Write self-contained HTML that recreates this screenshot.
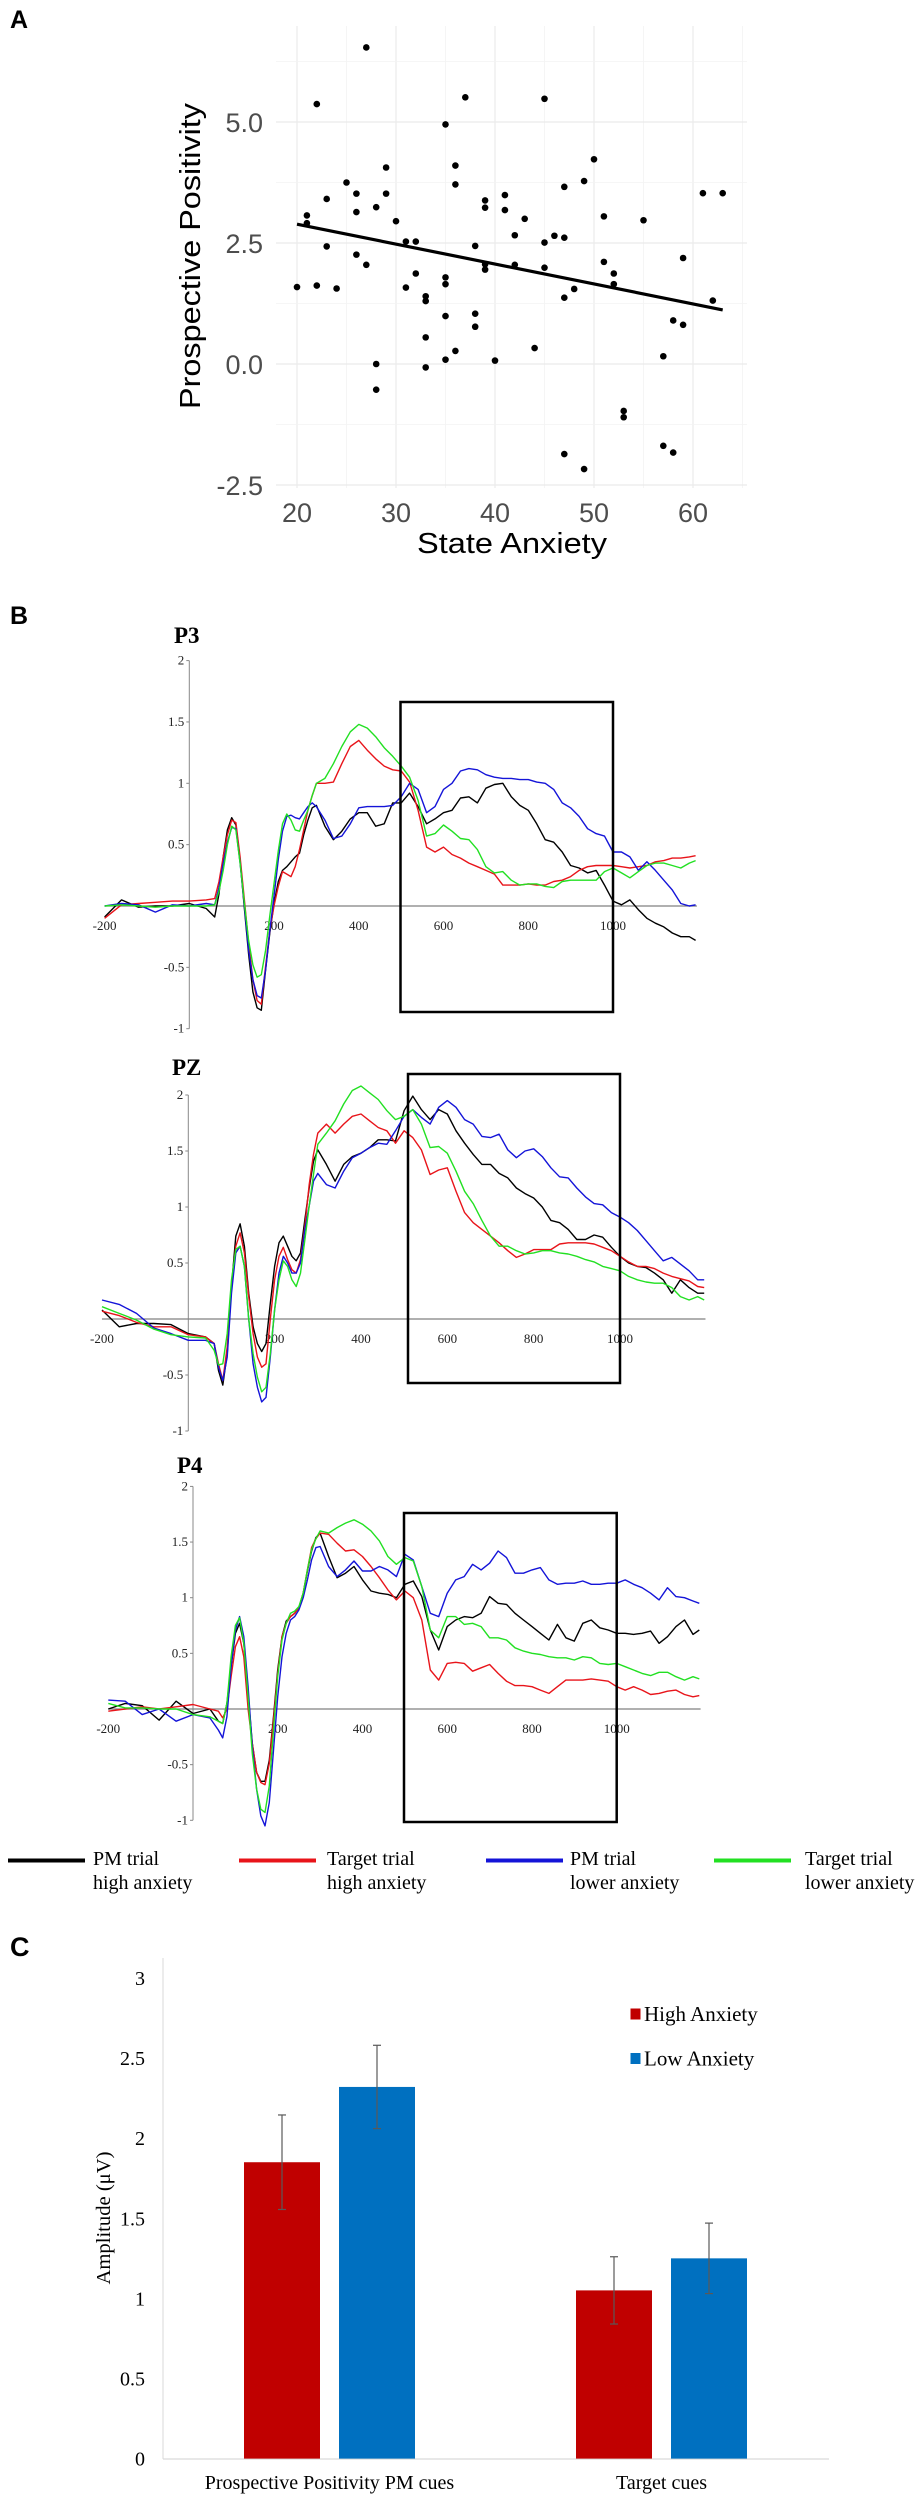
<!DOCTYPE html>
<html><head><meta charset="utf-8"><title>Figure</title>
<style>
html,body{margin:0;padding:0;background:#fff;}
svg{display:block;}
.sans{font-family:"Liberation Sans",sans-serif;}
.serif{font-family:"Liberation Serif",serif;}
</style></head>
<body>
<svg id="fig" width="919" height="2500" viewBox="0 0 919 2500" xmlns="http://www.w3.org/2000/svg">
<rect x="0" y="0" width="919" height="2500" fill="#fff"/>
<text x="10" y="28" class="sans" font-size="25" font-weight="bold">A</text>
<g id="panelA"></g>
<text x="10" y="624" class="sans" font-size="25" font-weight="bold">B</text>
<g id="panelB"></g>
<g id="legendB"></g>
<text x="10" y="1956" class="sans" font-size="27" font-weight="bold">C</text>
<g id="panelC"></g>
</svg>
<script>
// ---------- Panel A data ----------
const saX = [27,22,37,45,35,50,36,29,25,49,36,47,26,29,41,61,63,23,39,39,28,41,26,21,51,43,30,55,21,42,46,47,31,32,45,23,38,26,59,27,51,39,42,39,45,32,52,35,35,52,20,22,24,31,48,33,33,47,62,38,35,58,59,38,33,44,36,57,35,40,28,33,28,53,53,57,47,58,49];
const saY = [6.54,5.37,5.51,5.48,4.95,4.23,4.10,4.06,3.75,3.78,3.71,3.66,3.52,3.52,3.49,3.53,3.53,3.41,3.38,3.23,3.24,3.18,3.14,3.07,3.05,3.0,2.95,2.97,2.91,2.66,2.65,2.61,2.53,2.53,2.51,2.43,2.44,2.26,2.19,2.05,2.11,2.06,2.05,1.95,1.99,1.87,1.87,1.79,1.65,1.65,1.59,1.62,1.56,1.58,1.55,1.40,1.30,1.37,1.31,1.04,0.99,0.90,0.81,0.77,0.55,0.33,0.27,0.16,0.09,0.07,0.0,-0.07,-0.53,-0.97,-1.10,-1.69,-1.86,-1.83,-2.17];
const aXTicks = [20,30,40,50,60];
const aYTicks = [-2.5,0,2.5,5];
const aYTickLabels = ["-2.5","0.0","2.5","5.0"];

// ---------- Panel B data ----------
const erpTimes = [-200,-160,-120,-80,-40,0,40,60,70,80,90,100,110,120,130,140,150,160,170,180,190,200,210,220,230,240,250,260,270,280,290,300,320,340,360,380,400,420,440,460,480,500,520,540,560,580,600,620,640,660,680,700,720,740,760,780,800,820,840,860,880,900,920,940,960,980,1000,1020,1040,1060,1080,1100,1120,1140,1160,1180,1195];
const erpXTicks = [-200,200,400,600,800,1000];
const erpYTicks = [-1,-0.5,0.5,1,1.5,2];
const erpYTickLabels = ["-1","-0.5","0.5","1","1.5","2"];
const seriesNames = ["PM trial high anxiety","Target trial high anxiety","PM trial lower anxiety","Target trial lower anxiety"];
const seriesColors = ["#000000","#e8141a","#1414d8","#22e022"];

const p3Black = [-0.09,0.05,-0.01,0,0,0.02,-0.02, -0.09,0.1,0.40,0.62,0.72,0.66,0.37,-0.02,-0.39,-0.7,-0.83,-0.85,-0.52,-0.22,0.02,0.2,0.29,0.32,0.36,0.40,0.43,0.58,0.70,0.80, 0.82,0.65,0.54,0.61,0.71,0.76,0.76,0.65,0.67,0.84,0.84,0.92,0.81,0.67,0.71,0.76,0.78,0.88,0.89,0.84,0.96,0.99,1.0,0.89,0.82,0.78,0.67,0.54,0.52,0.44,0.33,0.31,0.27,0.29,0.17,0.04,0.01,0.05,-0.03,-0.10,-0.14,-0.17,-0.22,-0.25,-0.25,-0.28];
const p3Red = [-0.10,0.01,0.02,0.03,0.04,0.04,0.05, 0.06,0.2,0.40,0.58,0.70,0.68,0.40,0.05,-0.30,-0.60,-0.77,-0.80,-0.49,-0.2,0.0,0.16,0.28,0.26,0.24,0.32,0.46,0.62,0.78,0.90, 1.0,1.0,1.01,1.16,1.30,1.35,1.27,1.20,1.14,1.11,1.10,1.01,0.78,0.48,0.44,0.48,0.42,0.39,0.35,0.32,0.29,0.26,0.17,0.17,0.17,0.18,0.17,0.17,0.20,0.21,0.24,0.29,0.32,0.33,0.33,0.33,0.32,0.31,0.32,0.33,0.36,0.37,0.39,0.39,0.40,0.41];
const p3Blue = [0,0.02,0.01,-0.05,0.01,0,0.02, 0.01,0.15,0.35,0.52,0.64,0.63,0.35,0.0,-0.36,-0.6,-0.73,-0.75,-0.52,-0.2,0.08,0.38,0.61,0.73,0.74,0.72,0.71,0.76,0.81,0.84, 0.81,0.70,0.55,0.57,0.67,0.80,0.81,0.81,0.81,0.82,0.89,1.0,0.95,0.76,0.81,0.95,1.0,1.10,1.12,1.11,1.07,1.05,1.04,1.04,1.03,1.03,1.01,1.0,0.95,0.84,0.80,0.73,0.63,0.59,0.57,0.44,0.44,0.40,0.29,0.36,0.29,0.21,0.13,0.02,0.0,0.01];
const p3Green = [0,0.01,0,-0.01,0,0,0, 0.01,0.12,0.29,0.50,0.65,0.62,0.35,0.02,-0.28,-0.48,-0.58,-0.56,-0.36,-0.08,0.18,0.45,0.67,0.75,0.70,0.62,0.61,0.70,0.78,0.90, 1.0,1.04,1.16,1.30,1.42,1.48,1.45,1.38,1.29,1.22,1.14,1.05,0.86,0.57,0.59,0.66,0.61,0.55,0.54,0.46,0.32,0.27,0.28,0.21,0.17,0.18,0.18,0.16,0.15,0.20,0.21,0.21,0.21,0.21,0.28,0.31,0.27,0.23,0.28,0.33,0.35,0.35,0.33,0.31,0.35,0.37];

const pzBlack = [0.08,-0.07,-0.04,-0.04,-0.05,-0.13,-0.16, -0.22,-0.46,-0.59,-0.31,0.29,0.74,0.85,0.65,0.23,-0.07,-0.22,-0.29,-0.22,0.14,0.47,0.68,0.74,0.65,0.56,0.52,0.59,0.89,1.17,1.41, 1.51,1.38,1.23,1.38,1.45,1.48,1.53,1.60,1.60,1.59,1.86,1.99,1.87,1.78,1.87,1.83,1.68,1.57,1.47,1.38,1.38,1.30,1.26,1.17,1.12,1.08,1.0,0.88,0.86,0.80,0.71,0.71,0.75,0.73,0.64,0.56,0.50,0.47,0.46,0.41,0.35,0.23,0.35,0.28,0.23,0.23];
const pzRed = [0.07,0.03,-0.03,-0.07,-0.07,-0.14,-0.16, -0.22,-0.40,-0.55,-0.25,0.29,0.65,0.77,0.59,0.20,-0.13,-0.34,-0.43,-0.40,0,0.35,0.56,0.64,0.53,0.44,0.41,0.53,0.83,1.20,1.47, 1.66,1.74,1.66,1.74,1.81,1.83,1.77,1.71,1.68,1.57,1.68,1.62,1.51,1.29,1.33,1.35,1.14,0.95,0.86,0.80,0.74,0.68,0.61,0.55,0.58,0.62,0.62,0.62,0.67,0.68,0.68,0.68,0.67,0.64,0.61,0.56,0.51,0.47,0.47,0.45,0.41,0.38,0.36,0.34,0.29,0.28];
const pzBlue = [0.17,0.13,0.05,-0.08,-0.13,-0.19,-0.19, -0.22,-0.43,-0.55,-0.34,0.23,0.59,0.65,0.47,0,-0.40,-0.61,-0.74,-0.70,-0.34,0.08,0.41,0.56,0.50,0.41,0.41,0.50,0.80,1.01,1.23, 1.30,1.20,1.17,1.32,1.44,1.48,1.53,1.57,1.56,1.68,1.81,1.87,1.80,1.74,1.89,1.95,1.89,1.78,1.74,1.63,1.62,1.65,1.51,1.44,1.50,1.52,1.45,1.35,1.27,1.26,1.17,1.09,1.03,1.02,0.95,0.91,0.86,0.79,0.70,0.61,0.52,0.55,0.49,0.43,0.35,0.35];
const pzGreen = [0.11,0.05,-0.01,-0.09,-0.14,-0.16,-0.17, -0.28,-0.41,-0.40,-0.13,0.35,0.62,0.65,0.47,0,-0.31,-0.52,-0.65,-0.61,-0.31,0.08,0.35,0.52,0.47,0.35,0.29,0.41,0.71,1.01,1.29, 1.56,1.66,1.77,1.92,2.04,2.08,2.02,1.96,1.86,1.78,1.81,1.87,1.74,1.53,1.54,1.48,1.32,1.14,1.03,0.88,0.74,0.65,0.65,0.61,0.58,0.59,0.61,0.61,0.59,0.58,0.56,0.53,0.51,0.47,0.45,0.43,0.38,0.35,0.33,0.32,0.32,0.28,0.20,0.17,0.20,0.17];

const p4Black = [0,0.05,0.03,-0.10,0.07,-0.04,0, -0.11,-0.13,0.05,0.38,0.68,0.77,0.59,0.14,-0.31,-0.57,-0.65,-0.65,-0.46,-0.07,0.35,0.65,0.79,0.83,0.86,0.91,1.04,1.24,1.42,1.54, 1.58,1.37,1.18,1.22,1.28,1.16,1.06,1.04,1.03,1.0,1.12,1.15,1.01,0.71,0.53,0.74,0.80,0.83,0.82,0.86,1.01,0.95,0.94,0.86,0.80,0.74,0.68,0.62,0.76,0.64,0.61,0.77,0.80,0.73,0.71,0.68,0.68,0.67,0.68,0.70,0.59,0.65,0.74,0.80,0.67,0.71];
const p4Red = [-0.02,0,0.02,0,0.02,0.04,0, -0.02,-0.08,0,0.29,0.56,0.65,0.47,0,-0.31,-0.57,-0.66,-0.68,-0.49,-0.10,0.32,0.65,0.77,0.83,0.86,0.91,1.04,1.25,1.45,1.53, 1.58,1.57,1.49,1.42,1.43,1.37,1.28,1.18,1.07,0.98,1.06,1.0,0.80,0.35,0.26,0.41,0.42,0.41,0.34,0.37,0.40,0.32,0.25,0.21,0.21,0.20,0.17,0.14,0.20,0.26,0.26,0.26,0.27,0.26,0.25,0.20,0.17,0.20,0.17,0.13,0.14,0.16,0.17,0.13,0.11,0.12];
const p4Blue = [0.08,0.07,-0.05,0,-0.11,-0.05,-0.08, -0.19,-0.26,-0.07,0.38,0.71,0.83,0.65,0.20,-0.34,-0.72,-0.96,-1.05,-0.84,-0.37,0.11,0.47,0.68,0.80,0.83,0.89,1.0,1.16,1.34,1.45, 1.46,1.28,1.19,1.25,1.33,1.24,1.24,1.28,1.25,1.19,1.39,1.34,1.10,0.86,0.83,1.04,1.16,1.19,1.30,1.25,1.31,1.42,1.36,1.22,1.22,1.25,1.27,1.16,1.12,1.13,1.13,1.15,1.12,1.12,1.13,1.13,1.16,1.12,1.09,1.04,0.98,1.09,1.01,1.0,0.97,0.95];
const p4Green = [0.05,0.01,0.01,0,0,-0.05,-0.07, -0.11,-0.13,0.05,0.47,0.75,0.82,0.59,0.11,-0.40,-0.72,-0.90,-0.93,-0.69,-0.19,0.29,0.62,0.77,0.86,0.88,0.92,1.04,1.25,1.43,1.53, 1.60,1.58,1.63,1.67,1.70,1.66,1.60,1.51,1.37,1.30,1.36,1.33,1.10,0.71,0.64,0.83,0.83,0.76,0.77,0.74,0.64,0.64,0.62,0.55,0.52,0.50,0.49,0.47,0.46,0.46,0.44,0.47,0.46,0.41,0.40,0.41,0.38,0.35,0.32,0.30,0.33,0.33,0.29,0.26,0.29,0.27];

// ---------- Panel C data ----------
const barCategories = ["Prospective Positivity PM cues","Target cues"];
const barHigh = [1.85,1.05];
const barLow = [2.32,1.25];
const errHigh = [0.295,0.21];
const errLow = [0.26,0.22];
const cYTicks = [0,0.5,1,1.5,2,2.5,3];
const cYTickLabels = ["0","0.5","1","1.5","2","2.5","3"];
const barLegend = ["High Anxiety","Low Anxiety"];

const NS = "http://www.w3.org/2000/svg";
function mk(tag, attrs, parent, txt){
  const e = document.createElementNS(NS, tag);
  for (const k in attrs) e.setAttribute(k, attrs[k]);
  if (txt !== undefined) e.textContent = txt;
  parent.appendChild(e);
  return e;
}

// ================= Panel A =================
(function(){
  const g = document.getElementById('panelA');
  const xs = v => 297 + (v - 20) * 9.9;
  const ys = v => 364 - v * 48.4;
  const L = 276, R = 747, T = 26, B = 488;
  for (let v = 20; v <= 65; v += 5) {
    const l = mk('line', {x1: xs(v), x2: xs(v), y1: T, y2: B, stroke: v % 10 === 0 ? '#ebebeb' : '#f3f3f3', 'stroke-width': v % 10 === 0 ? 1.2 : 0.8}, g);
    
    
  }
  for (let v = -2.5; v <= 6.3; v += 1.25) {
    const major = Math.abs(v / 2.5 - Math.round(v / 2.5)) < 1e-6;
    const l = mk('line', {x1: L, x2: R, y1: ys(v), y2: ys(v), stroke: major ? '#ebebeb' : '#f3f3f3', 'stroke-width': major ? 1.2 : 0.8}, g);
    
    
  }
  aXTicks.forEach(v => {
    const t = mk('text', {x: xs(v), y: 522, 'text-anchor': 'middle', 'font-size': 27, fill: '#4d4d4d', class: 'sans'}, g, String(v));
    
    
  });
  aYTicks.forEach((v, i) => {
    const t = mk('text', {x: 263, y: ys(v) + 10, 'text-anchor': 'end', 'font-size': 27, fill: '#4d4d4d', class: 'sans'}, g, aYTickLabels[i]);
    
    
  });
  const yt = mk('text', {x: 0, y: 0, transform: 'translate(200,256) rotate(-90)', 'text-anchor': 'middle', 'font-size': 29, fill: '#000', class: 'sans', textLength: 306, lengthAdjust: 'spacingAndGlyphs'}, g, 'Prospective Positivity');
  
  
  const xt = mk('text', {x: 512, y: 553, 'text-anchor': 'middle', 'font-size': 29, fill: '#000', class: 'sans', textLength: 190, lengthAdjust: 'spacingAndGlyphs'}, g, 'State Anxiety');
  
  
  // regression
  const n = Math.min(saX.length, saY.length);
  let mx = 0, my = 0;
  for (let i = 0; i < n; i++) { mx += saX[i]; my += saY[i]; }
  mx /= n; my /= n;
  let sxy = 0, sxx = 0;
  for (let i = 0; i < n; i++) { sxy += (saX[i]-mx)*(saY[i]-my); sxx += (saX[i]-mx)*(saX[i]-mx); }
  const b = sxy / sxx, a = my - b * mx;
  const x0 = Math.min(...saX), x1 = Math.max(...saX);
  const rl = mk('line', {x1: xs(x0), y1: ys(a + b*x0), x2: xs(x1), y2: ys(a + b*x1), stroke: '#000', 'stroke-width': 3.2}, g);
  
  
  for (let i = 0; i < n; i++) {
    const c = mk('circle', {cx: xs(saX[i]), cy: ys(saY[i]), r: 3.3, fill: '#000'}, g);
    
    
  }
})();

// ================= Panel B =================
(function(){
  const g = document.getElementById('panelB');
  const panels = [
    {name:'p3', title:'P3', tx:174, ty:643, x0:189.3, xk:0.4237, y0:906, yk:122.7, box:[400.5,702,613,1012], series:[p3Black,p3Red,p3Blue,p3Green]},
    {name:'pz', title:'PZ', tx:172, ty:1075, x0:188.3, xk:0.4317, y0:1319, yk:112, box:[408,1074,620,1383], series:[pzBlack,pzRed,pzBlue,pzGreen]},
    {name:'p4', title:'P4', tx:177, ty:1473, x0:193, xk:0.4237, y0:1709, yk:111.3, box:[404,1513,616.7,1822], series:[p4Black,p4Red,p4Blue,p4Green]}
  ];
  panels.forEach(p => {
    const pg = mk('g', {}, g);
    
    
    const xs = t => p.x0 + t * p.xk;
    const ys = v => p.y0 - v * p.yk;
    const tt = mk('text', {x: p.tx, y: p.ty, 'font-size': 23, 'font-weight': 'bold', class: 'serif'}, pg, p.title);
    
    
    const ax = mk('line', {x1: xs(0), x2: xs(0), y1: ys(2), y2: ys(-1), stroke: '#888', 'stroke-width': 1}, pg);
    
    
    erpYTicks.forEach((v, i) => {
      const tk = mk('line', {x1: xs(0) - 3, x2: xs(0), y1: ys(v), y2: ys(v), stroke: '#888', 'stroke-width': 1}, pg);
      
      
      const tl = mk('text', {x: xs(0) - 5, y: ys(v) + 4, 'text-anchor': 'end', 'font-size': 13, fill: '#222', class: 'serif'}, pg, erpYTickLabels[i]);
      
      
    });
    const zl = mk('line', {x1: xs(-200), x2: xs(1198), y1: ys(0), y2: ys(0), stroke: '#808080', 'stroke-width': 1.2}, pg);
    
    
    erpXTicks.forEach(t => {
      const tl = mk('text', {x: xs(t), y: ys(0) + 24, 'text-anchor': 'middle', 'font-size': 13, fill: '#222', class: 'serif'}, pg, String(t));
      
      
    });
    p.series.forEach((s, si) => {
      const n = Math.min(s.length, erpTimes.length);
      let d = '';
      for (let i = 0; i < n; i++) d += (i ? 'L' : 'M') + xs(erpTimes[i]).toFixed(1) + ',' + ys(s[i]).toFixed(1);
      const path = mk('path', {d: d, fill: 'none', stroke: seriesColors[si], 'stroke-width': 1.4, 'stroke-linejoin': 'round'}, pg);
      
      
    });
    const bx = mk('rect', {x: p.box[0], y: p.box[1], width: p.box[2]-p.box[0], height: p.box[3]-p.box[1], fill: 'none', stroke: '#000', 'stroke-width': 2.5}, pg);
    
    
  });
  // legend
  const lg = document.getElementById('legendB');
  const lx = [8, 239, 486, 714];
  const tx = [93, 327, 570, 805];
  seriesNames.forEach((nm, i) => {
    const item = mk('g', {}, lg);
    
    
    mk('line', {x1: lx[i], x2: lx[i] + 77, y1: 1860.5, y2: 1860.5, stroke: seriesColors[i], 'stroke-width': 4}, item);
    const parts = nm.split(' ');
    const l1 = parts.slice(0, 2).join(' ');
    const l2 = parts.slice(2).join(' ');
    mk('text', {x: tx[i], y: 1865, 'font-size': 20, class: 'serif'}, item, l1);
    mk('text', {x: tx[i], y: 1889, 'font-size': 20, class: 'serif'}, item, l2);
  });
})();

// ================= Panel C =================
(function(){
  const g = document.getElementById('panelC');
  const ys = v => 2458.6 - v * 160.2;
  const groupLeft = [244, 576];
  const bw = 76, gap = 19;
  const ax = mk('line', {x1: 163, x2: 163, y1: 1958, y2: 2459, stroke: '#d9d9d9', 'stroke-width': 1}, g);
  
  
  const bl = mk('line', {x1: 163, x2: 829, y1: 2459, y2: 2459, stroke: '#d9d9d9', 'stroke-width': 1.2}, g);
  
  
  cYTicks.forEach((v, i) => {
    const t = mk('text', {x: 145, y: ys(v) + 7, 'text-anchor': 'end', 'font-size': 20, class: 'serif'}, g, cYTickLabels[i]);
    
    
  });
  const yt = mk('text', {x: 0, y: 0, transform: 'translate(110,2218) rotate(-90)', 'text-anchor': 'middle', 'font-size': 20, class: 'serif', textLength: 133, lengthAdjust: 'spacingAndGlyphs'}, g, 'Amplitude (\u03BCV)');
  
  
  barCategories.forEach((cat, i) => {
    const x0 = groupLeft[i];
    const rh = mk('rect', {x: x0, y: ys(barHigh[i]), width: bw, height: ys(0) - ys(barHigh[i]), fill: '#c00000'}, g);
    
    
    const rl = mk('rect', {x: x0 + bw + gap, y: ys(barLow[i]), width: bw, height: ys(0) - ys(barLow[i]), fill: '#0070c0'}, g);
    
    
    [[x0 + bw/2, barHigh[i], errHigh[i]], [x0 + bw + gap + bw/2, barLow[i], errLow[i]]].forEach(e => {
      const eg = mk('g', {stroke: '#595959', 'stroke-width': 1.2}, g);
      
      
      mk('line', {x1: e[0], x2: e[0], y1: ys(e[1] + e[2]), y2: ys(e[1] - e[2])}, eg);
      mk('line', {x1: e[0] - 4, x2: e[0] + 4, y1: ys(e[1] + e[2]), y2: ys(e[1] + e[2])}, eg);
      mk('line', {x1: e[0] - 4, x2: e[0] + 4, y1: ys(e[1] - e[2]), y2: ys(e[1] - e[2])}, eg);
    });
    const cl = mk('text', {x: x0 + bw + gap/2, y: 2489, 'text-anchor': 'middle', 'font-size': 20, class: 'serif'}, g, cat);
    
    
  });
  const legCol = ['#c00000', '#0070c0'];
  const legY = [2014, 2058.5];
  barLegend.forEach((nm, i) => {
    const lg = mk('g', {}, g);
    
    
    mk('rect', {x: 630.5, y: legY[i] - 5.5, width: 10, height: 11, fill: legCol[i]}, lg);
    mk('text', {x: 644, y: legY[i] + 7, 'font-size': 21, class: 'serif'}, lg, nm);
  });
})();
</script>
</body></html>
